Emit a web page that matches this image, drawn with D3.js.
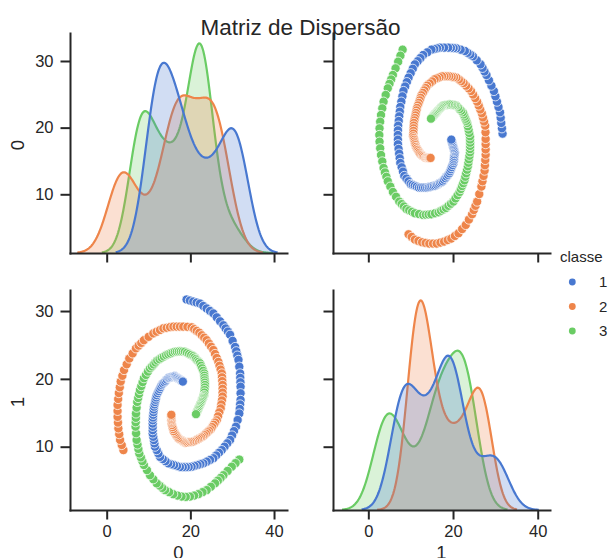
<!DOCTYPE html>
<html>

<head>
    <meta charset='utf-8'>
    <title>Matriz de Dispersão</title>
    <script type='text/javascript' src='https://cdn.jsdelivr.net/npm/d3@7'></script>
    <style>
        body { margin: 0; background: #fff; }
    </style>
</head>

<body>
    <svg width='614px' height='558px'></svg>
    <script type='text/javascript'>

        // nomes das variaveis e das classes
        const variables = ['0', '1']
        const classes = ['1', '2', '3']
        const colors = ['#4878d0', '#ee854a', '#6acc64']
        const xTicks = [0, 20, 40]
        const yTicks = [10, 20, 30]

        // pontos [var0, var1], da ponta externa para o centro
        // (mais densos perto do centro da espiral)
        const class1 = [
            [19.1, 31.7], [19.9, 31.55], [20.7, 31.4], [21.5, 31.25], [22.3, 31.1],
            [23.1, 30.74], [23.9, 30.38], [24.7, 30.01], [25.5, 29.65],
            [26.3, 29.07], [27.1, 28.48], [27.9, 27.9],
            [28.43, 27.43], [28.97, 26.97], [29.5, 26.5],
            [30.1, 25.6], [30.7, 24.7],
            [30.97, 24.07], [31.23, 23.43], [31.5, 22.8],
            [31.7, 21.8], [31.9, 20.8],
            [31.93, 20.15], [31.97, 19.5], [32.0, 18.85],
            [32.0, 17.88], [32.0, 16.9],
            [31.9, 16.23], [31.8, 15.57], [31.7, 14.9],
            [31.3, 13.93], [30.9, 12.95],
            [30.43, 12.3], [29.97, 11.65], [29.5, 11.0],
            [28.83, 10.5], [28.17, 10.0], [27.5, 9.5],
            [26.83, 9.1], [26.17, 8.7], [25.5, 8.3],
            [24.7, 8.05], [23.9, 7.8], [23.1, 7.55],
            [22.4, 7.43], [21.7, 7.3], [21.0, 7.18], [20.3, 7.05],
            [19.6, 7.0], [18.9, 6.98], [18.2, 6.98], [17.5, 7.0],
            [16.8, 7.14], [16.1, 7.28], [15.4, 7.41], [14.7, 7.55],
            [14.05, 7.87], [13.4, 8.18], [12.75, 8.5],
            [12.35, 9.0], [11.95, 9.5], [11.55, 10.0],
            [11.41, 10.49], [11.28, 10.98], [11.14, 11.46], [11.0, 11.95],
            [11.0, 12.44], [11.0, 12.93], [11.0, 13.41], [11.0, 13.9],
            [11.06, 14.3], [11.12, 14.7], [11.18, 15.1], [11.24, 15.5], [11.3, 15.9],
            [11.43, 16.24], [11.56, 16.58], [11.69, 16.92], [11.82, 17.26], [11.95, 17.6],
            [12.19, 17.9], [12.43, 18.2], [12.67, 18.5], [12.91, 18.8], [13.15, 19.1],
            [13.46, 19.3], [13.77, 19.5], [14.08, 19.7], [14.39, 19.9], [14.7, 20.1],
            [14.97, 20.15], [15.23, 20.2], [15.5, 20.25], [15.77, 20.3], [16.03, 20.35], [16.3, 20.4],
            [16.51, 20.31], [16.72, 20.22], [16.93, 20.13], [17.14, 20.04], [17.36, 19.96],
            [17.57, 19.87], [17.78, 19.78], [17.99, 19.69], [18.2, 19.6]
        ]

        const class2 = [
            [4.0, 9.5], [3.6, 10.25], [3.2, 11.0], [3.0, 11.85], [2.8, 12.7],
            [2.7, 13.55], [2.6, 14.4], [2.6, 15.28], [2.6, 16.15],
            [2.75, 17.03], [2.9, 17.9], [3.13, 18.75], [3.35, 19.6],
            [3.75, 20.45], [4.15, 21.3], [4.78, 22.15], [5.4, 23.0],
            [6.2, 23.75], [7.0, 24.5],
            [7.63, 24.9], [8.27, 25.3], [8.9, 25.7],
            [10.03, 26.2], [11.15, 26.7],
            [11.95, 26.95], [12.75, 27.2], [13.55, 27.45],
            [14.35, 27.53], [15.15, 27.62], [15.95, 27.7],
            [16.73, 27.7], [17.52, 27.7], [18.3, 27.7],
            [19.3, 27.67], [20.3, 27.6],
            [20.92, 27.33], [21.53, 27.07], [22.15, 26.8],
            [22.73, 26.43], [23.32, 26.07], [23.9, 25.7],
            [24.43, 25.22], [24.97, 24.73], [25.5, 24.25],
            [25.9, 23.67], [26.3, 23.08], [26.7, 22.5],
            [26.97, 21.93], [27.23, 21.37], [27.5, 20.8],
            [27.57, 20.23], [27.63, 19.67], [27.7, 19.1],
            [27.7, 18.53], [27.7, 17.97], [27.7, 17.4],
            [27.55, 16.82], [27.4, 16.23], [27.25, 15.65],
            [26.93, 15.07], [26.62, 14.48], [26.3, 13.9],
            [25.94, 13.56], [25.58, 13.23], [25.21, 12.89], [24.85, 12.55],
            [24.47, 12.34], [24.09, 12.13], [23.71, 11.92], [23.33, 11.71], [22.95, 11.5],
            [22.58, 11.38], [22.2, 11.25], [21.83, 11.13], [21.45, 11.0], [21.08, 10.88], [20.7, 10.75],
            [20.3, 10.72], [19.9, 10.69], [19.5, 10.66], [19.1, 10.63], [18.7, 10.6],
            [18.43, 10.71], [18.17, 10.82], [17.9, 10.93], [17.63, 11.03], [17.37, 11.14], [17.1, 11.25],
            [16.88, 11.46], [16.66, 11.67], [16.44, 11.88], [16.22, 12.09], [16.0, 12.3],
            [15.88, 12.6], [15.75, 12.9], [15.63, 13.2], [15.5, 13.5],
            [15.49, 13.7], [15.48, 13.9], [15.48, 14.1], [15.47, 14.3], [15.46, 14.5], [15.45, 14.7]
        ]

        const class3 = [
            [31.7, 8.1], [30.8, 7.58], [29.9, 7.05], [28.9, 6.43], [27.9, 5.8],
            [27.23, 5.4], [26.57, 5.0], [25.9, 4.6], [24.9, 4.1], [23.9, 3.6],
            [22.9, 3.3], [21.9, 3.0], [20.9, 2.8], [19.9, 2.65],
            [18.9, 2.6], [17.9, 2.65], [16.9, 2.8], [15.9, 3.0],
            [14.93, 3.3], [13.95, 3.6],
            [13.28, 3.93], [12.62, 4.27], [11.95, 4.6],
            [11.15, 5.2], [10.35, 5.8], [9.63, 6.55], [8.9, 7.3],
            [8.53, 7.87], [8.17, 8.43], [7.8, 9.0],
            [7.58, 9.67], [7.37, 10.33], [7.15, 11.0],
            [7.03, 11.98], [6.9, 12.95],
            [6.93, 13.6], [6.97, 14.25], [7.0, 14.9],
            [7.15, 15.75], [7.3, 16.6],
            [7.52, 17.18], [7.73, 17.77], [7.95, 18.35],
            [8.27, 18.93], [8.58, 19.52], [8.9, 20.1],
            [9.38, 20.58], [9.87, 21.07], [10.35, 21.55],
            [10.79, 21.84], [11.23, 22.13], [11.66, 22.41], [12.1, 22.7],
            [12.63, 22.9], [13.15, 23.1], [13.68, 23.3], [14.2, 23.5],
            [14.73, 23.63], [15.25, 23.75], [15.78, 23.88], [16.3, 24.0],
            [16.78, 24.03], [17.26, 24.05], [17.74, 24.05], [18.22, 24.03], [18.7, 24.0],
            [19.2, 23.84], [19.7, 23.68], [20.2, 23.51], [20.7, 23.35],
            [21.02, 23.14], [21.34, 22.93], [21.66, 22.72], [21.98, 22.51], [22.3, 22.3],
            [22.55, 21.93], [22.8, 21.55], [23.05, 21.18], [23.3, 20.8],
            [23.34, 20.46], [23.38, 20.12], [23.42, 19.78], [23.46, 19.44], [23.5, 19.1],
            [23.45, 18.73], [23.4, 18.35], [23.35, 17.98], [23.3, 17.6],
            [23.17, 17.4], [23.03, 17.2], [22.9, 17.0], [22.77, 16.8], [22.63, 16.6], [22.5, 16.4],
            [22.36, 16.2], [22.21, 16.0], [22.07, 15.8], [21.93, 15.6],
            [21.78, 15.4], [21.64, 15.2], [21.49, 15.0], [21.35, 14.8]
        ]

        const groups = [class1, class2, class3]
        const total = d3.sum(groups, g => g.length)

        const svg = d3.select('svg')
        const font = "'Liberation Sans', Arial, sans-serif"
        const ink = '#262626'

        // area de cada painel
        const colX = [[70, 287], [333, 550]]
        const rowY = [[253, 33], [510, 290]]
        const xScales = [
            d3.scaleLinear().domain([-8.77, 43.1]).range(colX[0]),
            d3.scaleLinear().domain([-8.34, 42.9]).range(colX[1])
        ]
        const yScales = [
            d3.scaleLinear().domain([1.19, 34.2]).range(rowY[0]),
            d3.scaleLinear().domain([0.67, 33.1]).range(rowY[1])
        ]

        // kde gaussiana com regra de Scott (como o seaborn)
        function kde(values, weight) {
            const bw = d3.deviation(values) * Math.pow(values.length, -1 / 5)
            const lo = d3.min(values) - 3 * bw
            const hi = d3.max(values) + 3 * bw
            return d3.range(200).map(i => {
                const x = lo + (hi - lo) * i / 199
                const d = d3.mean(values, v => Math.exp(-0.5 * ((x - v) / bw) ** 2)) / (bw * Math.sqrt(2 * Math.PI))
                return [x, d * weight]
            })
        }

        for (let r = 0; r < 2; r++) {
            for (let c = 0; c < 2; c++) {
                const x = xScales[c]
                const g = svg.append('g')

                if (r === c) {
                    const curves = groups.map(pts => kde(pts.map(p => p[c]), pts.length / total))
                    const ymax = d3.max(curves, cv => d3.max(cv, d => d[1]))
                    const y = d3.scaleLinear().domain([0, ymax * 1.05]).range(rowY[r])
                    const area = d3.area().x(d => x(d[0])).y0(y(0)).y1(d => y(d[1]))
                    const line = d3.line().x(d => x(d[0])).y(d => y(d[1]))
                    // seaborn desenha as classes em ordem inversa
                    for (let k = curves.length - 1; k >= 0; k--) {
                        g.append('path').attr('d', area(curves[k]))
                            .attr('fill', colors[k]).attr('fill-opacity', 0.25)
                        g.append('path').attr('d', line(curves[k]))
                            .attr('fill', 'none').attr('stroke', colors[k]).attr('stroke-width', 2.2)
                    }
                } else {
                    const y = yScales[r]
                    groups.forEach((pts, k) => {
                        g.selectAll(null).data(pts).join('circle')
                            .attr('cx', p => x(p[c]))
                            .attr('cy', p => y(p[r]))
                            .attr('r', 4.6)
                            .attr('fill', colors[k])
                            .attr('stroke', '#fff')
                            .attr('stroke-width', 0.75)
                    })
                }

                // eixos (spines esquerda e inferior)
                const xAxis = d3.axisBottom(x).tickValues(xTicks).tickSize(9.5).tickSizeOuter(0).tickPadding(6)
                    .tickFormat(r === 1 ? d3.format('d') : () => '')
                const yAxis = d3.axisLeft(yScales[r]).tickValues(yTicks).tickSize(9.5).tickSizeOuter(0).tickPadding(7)
                    .tickFormat(c === 0 ? d3.format('d') : () => '')

                const gx = svg.append('g').attr('transform', `translate(0,${rowY[r][0]})`).call(xAxis)
                const gy = svg.append('g').attr('transform', `translate(${colX[c][0]},0)`).call(yAxis)
                for (const a of [gx, gy]) {
                    a.attr('font-family', font).attr('font-size', 16.5)
                    a.select('.domain').attr('stroke', ink).attr('stroke-width', 2).attr('stroke-linecap', 'square')
                    a.selectAll('.tick line').attr('stroke', ink).attr('stroke-width', 2)
                    a.selectAll('.tick text').attr('fill', ink)
                }
            }
        }

        // rotulos dos eixos
        variables.forEach((v, i) => {
            svg.append('text')
                .attr('x', (colX[i][0] + colX[i][1]) / 2).attr('y', 559)
                .attr('text-anchor', 'middle').attr('font-family', font).attr('font-size', 18.5).attr('fill', ink)
                .text(v)
            svg.append('text')
                .attr('transform', `translate(23.5,${(rowY[i][0] + rowY[i][1]) / 2 + 2}) rotate(-90)`)
                .attr('text-anchor', 'middle').attr('font-family', font).attr('font-size', 18.5).attr('fill', ink)
                .text(v)
        })

        // titulo
        svg.append('text')
            .attr('x', 300.5).attr('y', 35)
            .attr('text-anchor', 'middle').attr('font-family', font).attr('font-size', 22.5).attr('fill', ink)
            .text('Matriz de Dispersão')

        // legenda
        const legend = svg.append('g').attr('font-family', font).attr('font-size', 15).attr('fill', ink)
        legend.append('text').attr('x', 560).attr('y', 262).text('classe')
        const legendY = d3.scalePoint().domain(classes).range([282, 331])
        classes.forEach((cl, k) => {
            legend.append('circle').attr('cx', 572.3).attr('cy', legendY(cl)).attr('r', 3.4).attr('fill', colors[k])
            legend.append('text').attr('x', 599).attr('y', legendY(cl) + 5.4).text(cl)
        })
    </script>
</body>

</html>
